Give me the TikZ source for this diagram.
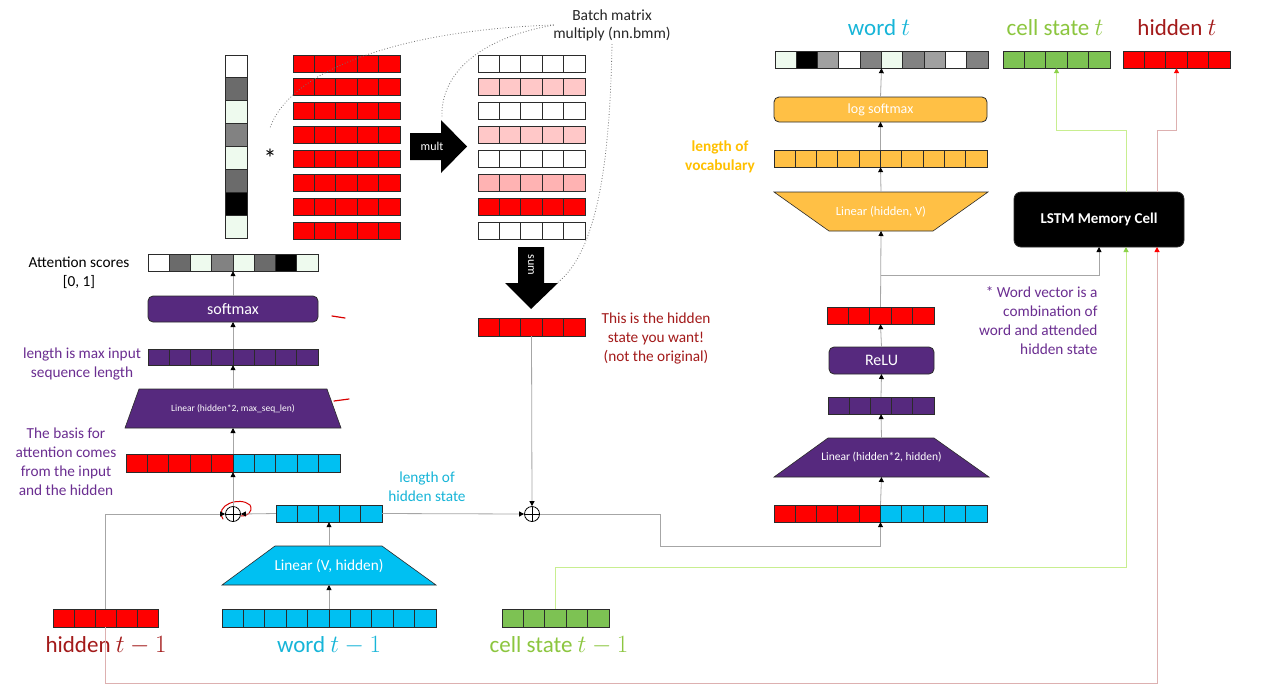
\documentclass[tikz,border=0pt]{standalone}
\usepackage{fontspec}
\setmainfont{Carlito}
\usetikzlibrary{arrows.meta,fit}
\definecolor{rd}{HTML}{FF0000}
\definecolor{cy}{HTML}{00C0F2}
\definecolor{pu}{HTML}{56297E}
\definecolor{og}{HTML}{FFC045}
\definecolor{gr}{HTML}{7DC253}
\definecolor{gl}{HTML}{EEFAEE}
\definecolor{gd}{HTML}{6B6B6B}
\definecolor{gm}{HTML}{828282}
\definecolor{gs}{HTML}{A0A0A0}
\definecolor{pk}{HTML}{FFC8C8}
\definecolor{pkb}{HTML}{FFB3B3}
\definecolor{txred}{HTML}{A31A1A}
\definecolor{txcy}{HTML}{17B5D8}
\definecolor{txgr}{HTML}{8CC63F}
\definecolor{txpu}{HTML}{6B2E91}
\definecolor{txog}{HTML}{FFC000}
\definecolor{ln}{HTML}{A6A6A6}
\definecolor{lnr}{HTML}{DDB0B0}
\definecolor{lng}{HTML}{C8EE90}
\definecolor{hdg}{HTML}{8CD24A}
\definecolor{bord}{HTML}{2B2B2B}
\newcommand\cvec[7]{%
  \node[fit={(#2,#3)(#4,#5)},inner sep=0pt] (#1) {};
  \foreach \c [count=\i from 0] in {#7}{%
    \pgfmathsetmacro\xa{#2+(#4-#2)*\i/#6}%
    \pgfmathsetmacro\xb{#2+(#4-#2)*(\i+1)/#6}%
    \draw[cellb,fill=\c] (\xa,#3) rectangle (\xb,#5);
  }%
}
\newcommand\uvec[7]{%
  \node[fit={(#2,#3)(#4,#5)},inner sep=0pt] (#1) {};
  \foreach \i in {1,...,#6}{%
    \pgfmathsetmacro\xa{#2+(#4-#2)*(\i-1)/#6}%
    \pgfmathsetmacro\xb{#2+(#4-#2)*\i/#6}%
    \draw[cellb,fill=#7] (\xa,#3) rectangle (\xb,#5);
  }%
}
\tikzset{
  cellb/.style={draw=bord,line width=0.9pt},
  arr/.style={draw=ln,line width=0.8pt,-{Triangle[length=5pt,width=5pt,color=black]}},
  rarr/.style={draw=lnr,line width=1pt,-{Triangle[length=5pt,width=5pt,color=red]}},
  garr/.style={draw=lng,line width=1pt,-{Triangle[length=5pt,width=5pt,color=hdg]}},
  pbox/.style={rectangle,rounded corners=5pt,draw=bord,line width=0.8pt,inner sep=0pt,outer sep=0pt,text=white},
  tbox/.style={rectangle,inner sep=0pt,outer sep=0pt,text=white},
  lbl/.style={font=\fontsize{15.3}{19}\selectfont,align=center},
  big/.style={font=\fontsize{23}{26}\selectfont},
  dotline/.style={draw=black!55,dotted,line width=0.8pt},
  plusn/.style={circle,draw=black,line width=0.8pt,minimum size=15pt,inner sep=0pt,fill=white,
    path picture={\draw[line width=0.8pt] (path picture bounding box.north) -- (path picture bounding box.south)
      (path picture bounding box.west) -- (path picture bounding box.east);}},
  annot/.style={draw=red!85!black,line width=1.2pt,line cap=round}
}
\begin{document}
\begin{tikzpicture}[x=1pt,y=-1pt]
\useasboundingbox[fill=white] (0,0) rectangle (1265,694);

% ---------- top-left: attention column, hidden matrix ----------
\node[fit={(225,55)(247,238)},inner sep=0pt] (col) {};
\foreach \c [count=\i from 0] in {white,gd,gl,gm,gl,gd,black,gl}{%
  \pgfmathsetmacro\ya{55+22.875*\i}\pgfmathsetmacro\yb{55+22.875*(\i+1)}%
  \draw[cellb,fill=\c] (225,\ya) rectangle (247,\yb);
}
\node[font=\fontsize{26}{26}\selectfont] (star) at (270,158) {*};
\foreach \r in {0,...,7}{%
  \pgfmathsetmacro\ya{55+23.86*\r}\pgfmathsetmacro\yb{\ya+17}%
  \uvec{ma\r}{293}{\ya}{400}{\yb}{5}{rd}
}
\foreach \r/\cc in {0/white,1/pk,2/white,3/pk,4/white,5/pkb,6/rd,7/white}{%
  \pgfmathsetmacro\ya{55+23.86*\r}\pgfmathsetmacro\yb{\ya+17}%
  \uvec{mb\r}{478}{\ya}{585}{\yb}{5}{\cc}
}
% mult arrow
\fill[black] (410,133) -- (441,133) -- (441,120) -- (467,146.5) -- (441,173) -- (441,160) -- (410,160) -- cycle;
\node[text=white,font=\fontsize{12}{12}\selectfont] (multl) at (432,146.5) {mult};
% sum arrow
\fill[black] (518,247) -- (544,247) -- (544,283) -- (558,283) -- (531,309) -- (505,283) -- (518,283) -- cycle;
\node[text=white,rotate=-90,font=\fontsize{12}{12}\selectfont] (suml) at (531,265) {sum};

\node[font=\fontsize{15.5}{18}\selectfont,align=center,text=black!85] (bmm) at (612,25) {Batch matrix\\multiply (nn.bmm)};
\coordinate (d1) at (270,128);
\coordinate (d2) at (442,118);
\coordinate (d3) at (557,283);
\draw[dotline] ([xshift=4pt]bmm.west) .. controls (400,30) and (290,70) .. (d1);
\draw[dotline] ([xshift=4pt]bmm.west) .. controls (470,40) and (440,80) .. (d2);
\draw[dotline] (bmm.south) .. controls (610,150) and (600,250) .. (d3);

\uvec{rv}{478}{318}{585}{336}{5}{rd}
\node[lbl,text=txred] (wantl) at (656,338) {This is the hidden\\state you want!\\(not the original)};

% ---------- left column ----------
\cvec{att}{148}{254}{318}{271}{8}{white,gd,gl,gm,gl,gd,black,gl}
\node[lbl] (attl) at (79,273) {Attention scores\\{[0, 1]}};
\node[pbox,fill=pu,minimum width=170pt,minimum height=26pt,font=\fontsize{16}{16}\selectfont] (sm) at (233,309) {softmax};
\uvec{pv}{148}{349}{318}{365}{8}{pu}
\node[lbl,text=txpu] (maxl) at (82,364) {length is max input\\sequence length};
\filldraw[fill=pu,draw=bord,line width=0.6pt] (139,389) -- (327,389) -- (341,428) -- (125,428) -- cycle;
\node[tbox,minimum width=216pt,minimum height=39pt,font=\fontsize{9.5}{11}\selectfont] (lin1) at (233,408.5) {Linear (hidden*2, max\_seq\_len)};
\cvec{cat1}{126}{454}{340}{472}{10}{rd,rd,rd,rd,rd,cy,cy,cy,cy,cy}
\node[lbl,text=txpu] (basisl) at (66,462) {The basis for\\attention comes\\from the input\\and the hidden};

\draw[annot] (332,316) -- (345,318);
\draw[annot] (334,401) -- (349,399);

% ---------- bottom ----------
\uvec{hv}{276}{505}{382}{522}{5}{cy}
\node[lbl,text=txcy] (hsl) at (427,487) {length of\\hidden state};
\filldraw[fill=cy,draw=bord,line width=0.6pt] (275,546) -- (382,546) -- (436,585) -- (222,585) -- cycle;
\node[tbox,minimum width=214pt,minimum height=39pt,font=\fontsize{15.3}{16}\selectfont] (linv) at (329,565.5) {Linear (V, hidden)};
\uvec{h0}{53}{609}{158}{627}{5}{rd}
\uvec{w0}{222}{609}{436}{627}{10}{cy}
\uvec{c0}{502}{609}{609}{627}{5}{gr}
\node[big,text=txred] (h0l) at (106,646) {hidden $t-1$};
\node[big,text=txcy] (w0l) at (329,646) {word $t-1$};
\node[big,text=txgr] (c0l) at (559,646) {cell state $t-1$};

\node[plusn] (p1) at (233,514) {};
\node[plusn] (p2) at (532,514) {};
\draw[annot,line width=1pt] (223,519) .. controls (214,505) and (240,496) .. (250,505) .. controls (254,512) and (246,517) .. (241,516);

% ---------- right column ----------
\cvec{wt}{775}{51}{988}{68}{10}{gl,black,gs,white,gm,gl,gm,gs,white,gm}
\uvec{ct}{1003}{51}{1110}{68}{5}{gr}
\uvec{ht}{1123}{51}{1230}{68}{5}{rd}
\node[big,text=txcy] (wtl) at (879,28) {word $t$};
\node[big,text=txgr] (ctl) at (1055,28) {cell state $t$};
\node[big,text=txred] (htl) at (1177,28) {hidden $t$};
\node[pbox,fill=og,minimum width=213pt,minimum height=25pt,font=\fontsize{14}{14}\selectfont] (ls) at (880.5,109.5) {log softmax};
\uvec{ov}{774}{150}{987}{167}{10}{og}
\node[lbl,text=txog,font=\fontsize{15.3}{19}\selectfont\bfseries] (vocl) at (720,157) {length of\\vocabulary};
\filldraw[fill=og,draw=bord,line width=0.6pt] (774,192) -- (988,192) -- (933,231) -- (829,231) -- cycle;
\node[tbox,minimum width=214pt,minimum height=39pt,font=\fontsize{12.5}{13}\selectfont] (lin3) at (881,211.5) {Linear (hidden, V)};
\node[pbox,fill=black,rounded corners=7pt,minimum width=170pt,minimum height=55pt,font=\fontsize{15}{15}\selectfont\bfseries] (lstm) at (1099,219.5) {LSTM Memory Cell};
\uvec{rv2}{827}{307}{934}{324}{5}{rd}
\node[lbl,text=txpu,align=right,anchor=east] (wvl) at (1101,321) {* Word vector is a\\combination of\\word and attended\\hidden state};
\node[pbox,fill=pu,minimum width=105pt,minimum height=27pt,font=\fontsize{16}{16}\selectfont] (relu) at (881.5,360.5) {ReLU};
\uvec{pv2}{828}{397}{934}{414}{5}{pu}
\filldraw[fill=pu,draw=bord,line width=0.6pt] (828,438) -- (934,438) -- (989,477) -- (774,477) -- cycle;
\node[tbox,minimum width=215pt,minimum height=39pt,font=\fontsize{11.5}{12}\selectfont] (lin2) at (881.5,457.5) {Linear (hidden*2, hidden)};
\cvec{cat2}{774}{505}{987}{522}{10}{rd,rd,rd,rd,rd,cy,cy,cy,cy,cy}

% ---------- connectors ----------
\draw[arr] (cat1.north) -- (lin1.south);
\draw[arr] (lin1.north) -- (pv.south);
\draw[arr] (pv.north) -- (sm.south);
\draw[arr] (sm.north) -- (att.south);
\draw[arr] (p1.north) -- (cat1.south);
\draw[arr] (h0.north) |- (p1.west);
\draw[arr] (hv.west) -- (p1.east);
\draw[arr] (hv.east) -- (p2.west);
\draw[arr] (rv.south) -- (p2.north);
\draw[arr] (linv.north) -- (hv.south);
\draw[arr] (w0.north) -- (linv.south);
\draw[arr] (p2.east) -- ++(120,0) -- ++(0,32) -| (cat2.south);
\draw[arr] (cat2.north) -- (lin2.south);
\draw[arr] (lin2.north) -- (pv2.south);
\draw[arr] (pv2.north) -- (relu.south);
\draw[arr] (relu.north) -- (rv2.south);
\draw[arr] (rv2.north) -- (lin3.south);
\draw[arr] ([yshift=31pt]rv2.north) -| (lstm.south);
\draw[arr] (lin3.north) -- (ov.south);
\draw[arr] (ov.north) -- (ls.south);
\draw[arr] (ls.north) -- (wt.south);
\draw[garr] (c0.north) -- ++(0,-41) -| ([xshift=27pt]lstm.south);
\draw[rarr] (h0.south) -- ++(0,56) -| ([xshift=58pt]lstm.south);
\draw[garr] ([xshift=27pt]lstm.north) -- ++(0,-62) -| (ct.south);
\draw[rarr] ([xshift=58pt]lstm.north) -- ++(0,-62) -| (ht.south);
\end{tikzpicture}
\end{document}
